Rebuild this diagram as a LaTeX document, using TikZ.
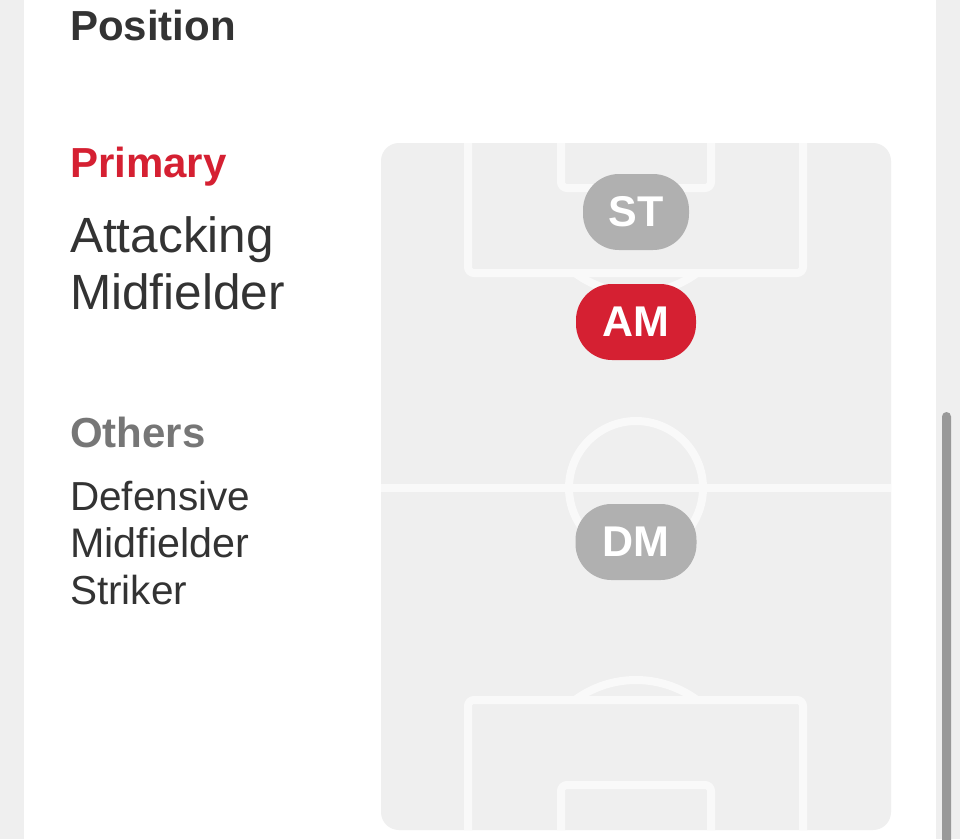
\documentclass[tikz,border=0pt]{standalone}
\usepackage{fontspec}
\setmainfont{Liberation Sans}
\usetikzlibrary{calc}

\definecolor{pagegray}{HTML}{EFEFEF}
\definecolor{pitchgray}{HTML}{EFEFEF}
\definecolor{linewhite}{HTML}{F9F9F9}
\definecolor{textdark}{HTML}{333333}
\definecolor{textgray}{HTML}{767676}
\definecolor{primred}{HTML}{D52032}
\definecolor{pillgray}{HTML}{B0B0B0}
\definecolor{bargray}{HTML}{999999}

\begin{document}
\begin{tikzpicture}[x=1pt, y=-1pt,
    heading/.style={anchor=base west, inner sep=0, text=textdark, font=\fontsize{42}{50}\selectfont\bfseries},
    bigname/.style={anchor=base west, inner sep=0, text=textdark, font=\fontsize{49.5}{57}\selectfont},
    smallname/.style={anchor=base west, inner sep=0, text=textdark, font=\fontsize{40.5}{47}\selectfont},
    pitchline/.style={draw=linewhite, line width=8pt, rounded corners=6pt},
    pill/.style={fill=pillgray, text=white, inner sep=0, minimum height=76pt, rounded corners=36pt, font=\fontsize{43}{50}\selectfont\bfseries}]

    \useasboundingbox (0,0) rectangle (960,839);
    \fill[pagegray] (0,0) rectangle (960,839);
    \fill[white] (24,0) rectangle (936,839);
    \fill[bargray, rounded corners=4.5pt] (942,412) rectangle (951,850);

    \node[heading] (title) at (70,40) {Position};
    \node[heading, text=primred] (primary) at (70,177) {Primary};
    \node[bigname] (primA) at (70,252) {Attacking};
    \node[bigname] (primB) at (70,309) {Midfielder};
    \node[heading, text=textgray] (others) at (70,447) {Others};
    \node[smallname] (othA) at (70,510) {Defensive};
    \node[smallname, font=\fontsize{41.3}{47}\selectfont] (othB) at (70,557) {Midfielder};
    \node[smallname] (othC) at (70,604) {Striker};

    \fill[pitchgray, rounded corners=18pt] (381,143) rectangle (891,830);
    \begin{scope}
        \clip[rounded corners=18pt] (381,143) rectangle (891,830);
        \draw[pitchline] (381,488) -- (891,488);
        \draw[pitchline] (636,488) circle (67pt);
        \draw[pitchline] (468,120) -- (468,273) -- (803,273) -- (803,120);
        \draw[pitchline] (561,120) -- (561,188) -- (711,188) -- (711,120);
        \draw[pitchline] (468,850) -- (468,700) -- (803,700) -- (803,850);
        \draw[pitchline] (561,850) -- (561,785) -- (711,785) -- (711,850);
        \begin{scope}
            \clip (381,276) rectangle (891,400);
            \draw[pitchline] (636,190) circle (103pt);
        \end{scope}
        \begin{scope}
            \clip (381,600) rectangle (891,697);
            \draw[pitchline] (636,783) circle (103pt);
        \end{scope}
    \end{scope}

    \node[pill, minimum width=106pt] (st) at (636,212) {ST};
    \node[pill, minimum width=120pt, fill=primred] (am) at (636,322) {AM};
    \node[pill, minimum width=121pt] (dm) at (636,542) {DM};
\end{tikzpicture}
\end{document}
